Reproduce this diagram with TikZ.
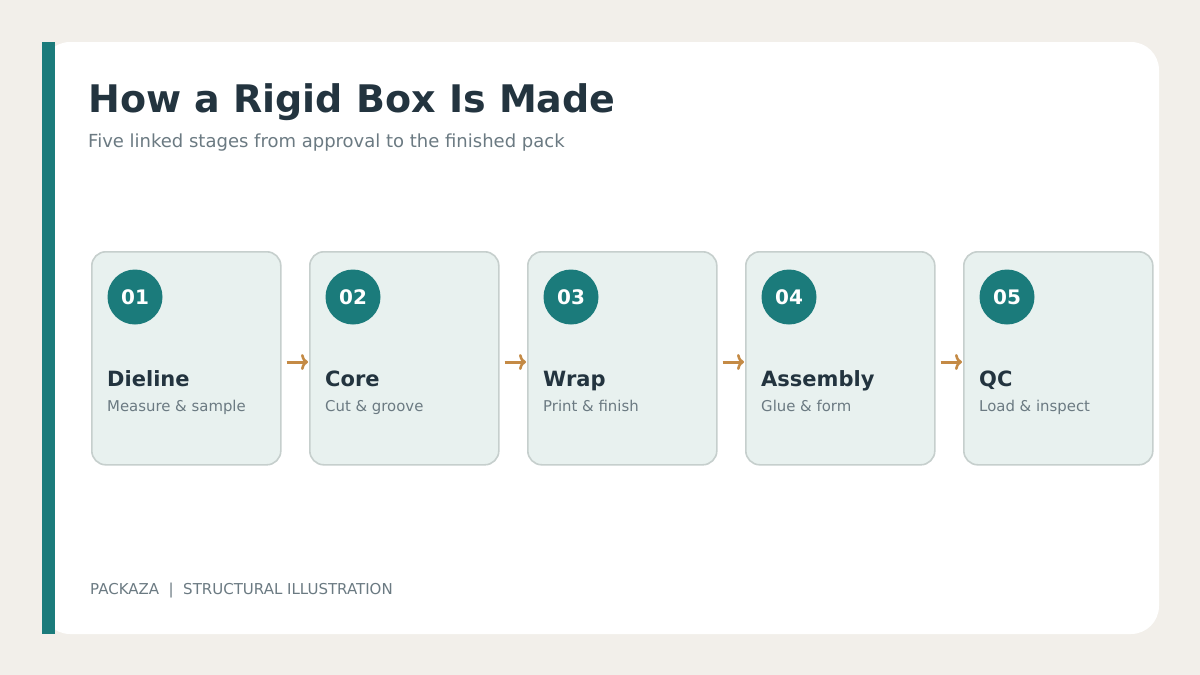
\documentclass[tikz,border=0pt]{standalone}
\usepackage{fontspec}
\setmainfont{DejaVu Sans}
\usetikzlibrary{arrows.meta}
\definecolor{bgc}{HTML}{F2EFEA}
\definecolor{teal}{HTML}{1B7B7B}
\definecolor{navy}{HTML}{23343F}
\definecolor{greyt}{HTML}{6B7A82}
\definecolor{cardf}{HTML}{E8F1EF}
\definecolor{cardb}{HTML}{C6CFCD}
\definecolor{arrowc}{HTML}{C48A45}
\tikzset{
  stagecard/.style={draw=cardb, line width=1.6pt, fill=cardf, rounded corners=14pt, minimum width=189pt, minimum height=213pt, inner sep=0pt},
  numdot/.style={circle, fill=teal, minimum size=55pt, inner sep=0pt, text=white, font=\fontsize{20}{24}\selectfont\bfseries},
  stagetitle/.style={anchor=base west, text=navy, font=\fontsize{21}{25}\selectfont\bfseries, inner sep=0pt},
  stagesub/.style={anchor=base west, text=greyt, font=\fontsize{14.9}{18}\selectfont, inner sep=0pt},
  flowarrow/.style={draw=arrowc, line width=3pt, -{To[length=7pt,width=16pt,line width=2.6pt]}, shorten >=1pt}
}
\begin{document}
\begin{tikzpicture}[x=1pt,y=-1pt]
\useasboundingbox (0,0) rectangle (1200,675);
\fill[bgc] (0,0) rectangle (1200,675);
\fill[white, rounded corners=28pt] (42,42) rectangle (1159,634);
\fill[teal] (42,42) rectangle (55,634);
\node[anchor=base west, text=navy, font=\fontsize{38}{46}\selectfont\bfseries, inner sep=0pt] (title) at (88,112) {How a Rigid Box Is Made};
\node[anchor=base west, text=greyt, font=\fontsize{18}{22}\selectfont, inner sep=0pt] (subtitle) at (88,147) {Five linked stages from approval to the finished pack};
\foreach \i/\n/\t/\s in {0/01/Dieline/Measure \& sample, 1/02/Core/Cut \& groove, 2/03/Wrap/Print \& finish, 3/04/Assembly/Glue \& form, 4/05/QC/Load \& inspect}{
  \pgfmathsetmacro{\xx}{91+218*\i}
  \node[stagecard, anchor=north west] (card\i) at (\xx,251) {};
  \node[numdot] (dot\i) at (\xx+44,297) {\n};
  \node[stagetitle] (ttl\i) at (\xx+16,386) {\t};
  \node[stagesub] (sub\i) at (\xx+16,411) {\s};
}
\foreach \a/\b in {0/1,1/2,2/3,3/4}{
  \coordinate (from\a) at ([xshift=5pt,yshift=-111pt]card\a.north east);
  \draw[flowarrow] (from\a) -- (from\a -| card\b.west);
}
\node[anchor=base west, text=greyt, font=\fontsize{15}{18}\selectfont, inner sep=0pt] (footer) at (90,594) {PACKAZA\ \ |\ \ STRUCTURAL ILLUSTRATION};
\end{tikzpicture}
\end{document}
